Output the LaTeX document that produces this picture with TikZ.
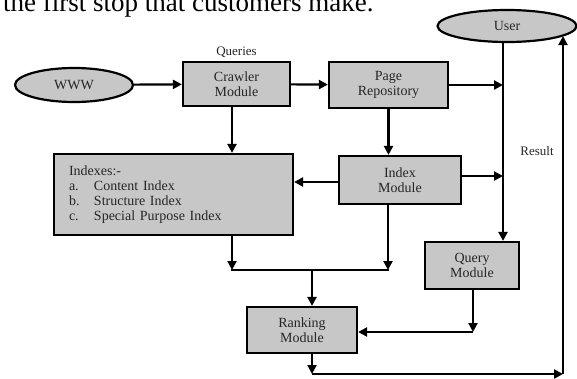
\documentclass[tikz,border=0pt]{standalone}
\usepackage{fontspec}
\setmainfont{Liberation Serif}
\usepackage{xcolor}
\usetikzlibrary{positioning,arrows.meta,shapes.geometric}

\begin{document}
\begin{tikzpicture}[
    x=1pt, y=-1pt,
    node distance=3pt and 0pt,
    block/.style={
        rectangle, draw=black, fill=black!22, line width=2.2pt,
        text=black!85, font=\fontsize{14}{15}\selectfont,
        align=center, inner sep=0pt
    },
    oval/.style={
        ellipse, draw=black, fill=black!22, line width=2.2pt,
        text=black!85, font=\fontsize{14}{15}\selectfont, inner sep=0pt
    },
    tag/.style={text=black!85, font=\fontsize{13}{15}\selectfont, inner sep=0pt},
    line/.style={draw, -{Triangle[length=9pt,width=9pt]}, line width=2.2pt}
]
    \useasboundingbox (0,0) rectangle (577,378);
    \clip (0,0) rectangle (577,378);

    \node [anchor=base west, inner sep=0pt, font=\fontsize{27}{30}\selectfont] (caption) at (3,11) {the first stop that customers make.};

    \node [oval, minimum width=118pt, minimum height=34pt] (www) at (74,85) {WWW};
    \node [oval, minimum width=139pt, minimum height=32pt] (user) at (507,26) {User};
    \node [block, minimum width=107pt, minimum height=44pt] (crawler) at (236.5,84) {Crawler\\Module};
    \node [tag, above=of crawler] (queries) {Queries};
    \node [block, minimum width=119pt, minimum height=46pt] (page) at (388.5,85) {Page\\Repository};
    \node [block, minimum width=122pt, minimum height=48pt] (index) at (400,180) {Index\\Module};
    \node [block, minimum width=239pt, minimum height=81pt, text width=209pt, inner xsep=15pt, align=left] (indexes) at (173.5,194.5) {
        Indexes:-\\
        \makebox[25pt][l]{a.}Content Index\\
        \makebox[25pt][l]{b.}Structure Index\\
        \makebox[25pt][l]{c.}Special Purpose Index
    };
    \node [block, minimum width=94pt, minimum height=47pt] (query) at (472,265.5) {Query\\Module};
    \node [block, minimum width=110pt, minimum height=46pt] (ranking) at (302,330) {Ranking\\Module};
    \node [tag] (result) at (537,151) {Result};

    \coordinate (col) at (503,42);
    \coordinate (mergeL) at (232,270);
    \coordinate (mergeM) at (312,270);
    \coordinate (mergeR) at (388,270);
    \coordinate (qturn) at (473,332);
    \coordinate (bottomL) at (312,374);
    \coordinate (bottomR) at (563,374);

    \path [line] (www) -- (crawler);
    \path [line] (crawler) -- (page);
    \path [line] (page) -- (page -| col);
    \path [line] (user.south -| col) -- (query.north -| col);
    \path [line] (crawler.south -| mergeL) -- (indexes.north -| mergeL);
    \path [line] (page.south) -- (index.north -| page.south);
    \path [line] ([yshift=-2pt]index.west) -- ([yshift=-2pt]index.west -| indexes.east);
    \path [line] ([yshift=4pt]index.east) -- ([yshift=4pt]index.east -| col);
    \path [line] (indexes.south -| mergeL) -- (mergeL);
    \path [line] (index.south -| mergeR) -- (mergeR);
    \draw [line width=2.2pt, line cap=rect] (mergeL) -- (mergeR);
    \path [line] (mergeM) -- (ranking.north -| mergeM);
    \path [line] (query.south -| qturn) -- (qturn);
    \path [line] (qturn) -- (ranking.east |- qturn);
    \path [line] (ranking.south -| bottomL) -- (bottomL);
    \path [line] (bottomL) -- (bottomR);
    \path [line] (bottomR) -- (bottomR |- user.-10);
\end{tikzpicture}
\end{document}
